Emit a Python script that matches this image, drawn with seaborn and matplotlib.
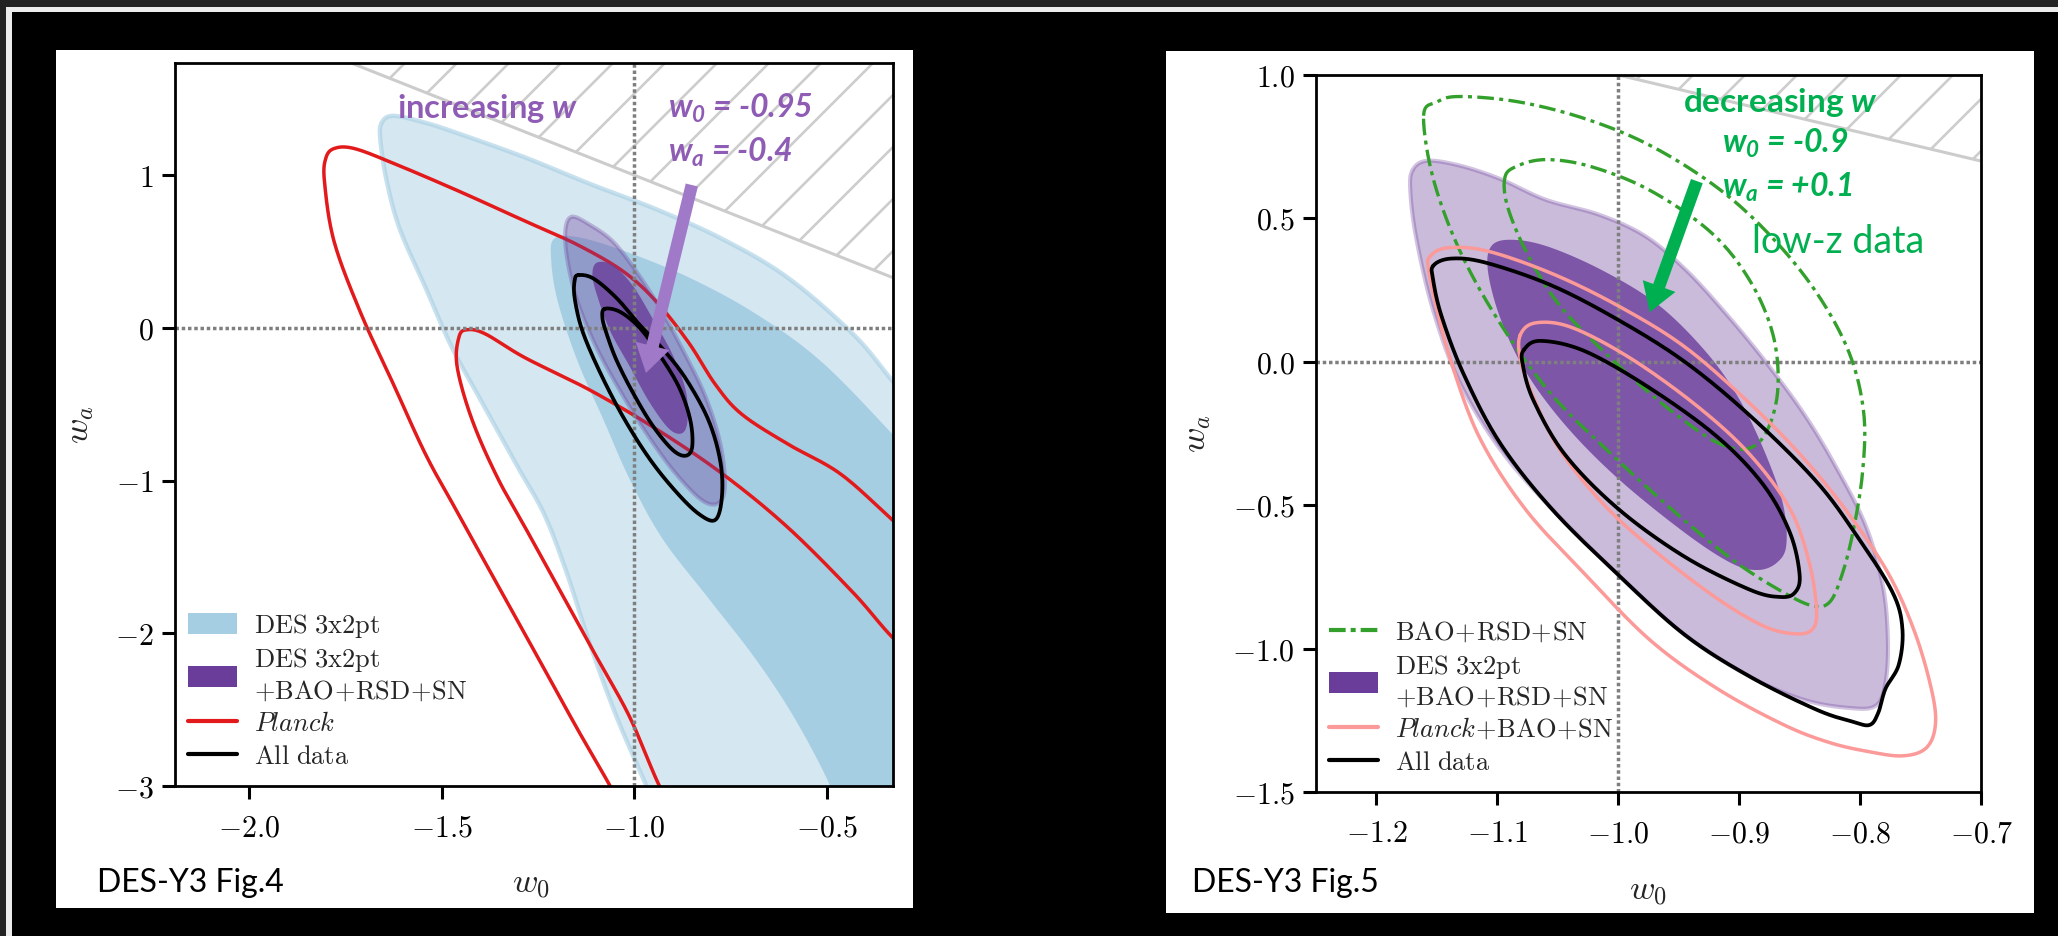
import numpy as np
import matplotlib
matplotlib.use("Agg")
import matplotlib.pyplot as plt
import seaborn as sns
from matplotlib.patches import Rectangle, Polygon, Patch
from matplotlib.lines import Line2D
from matplotlib.collections import LineCollection
from matplotlib.ticker import FixedLocator, FuncFormatter

# ---------------------------------------------------------------------------
# Contour outlines in the (w0, wa) plane, as (w0, wa) vertices
# ---------------------------------------------------------------------------
# Fig. 4 : DES 3x2pt alone (95% and 68%)
fig4_des_95 = [(-1.656, 1.342), (-1.625, 1.389), (-1.540, 1.342), (-1.455, 1.272),
               (-1.284, 1.117), (-1.114, 0.942), (-0.944, 0.778), (-0.773, 0.584),
               (-0.603, 0.331), (-0.433, -0.039), (-0.336, -0.331), (-0.228, -0.681),
               (-0.20, -2.0), (-0.228, -3.33), (-0.944, -3.17), (-0.969, -3.0),
               (-1.046, -2.549), (-1.114, -2.082), (-1.174, -1.615), (-1.233, -1.226),
               (-1.302, -0.914), (-1.387, -0.525), (-1.472, -0.136), (-1.540, 0.253),
               (-1.608, 0.642), (-1.642, 0.953), (-1.659, 1.226)]
fig4_des_68 = [(-1.208, 0.584), (-1.148, 0.595), (-1.029, 0.506), (-0.859, 0.331),
               (-0.688, 0.097), (-0.518, -0.214), (-0.336, -0.681), (-0.228, -0.992),
               (-0.20, -2.2), (-0.228, -3.33), (-0.450, -3.33), (-0.492, -3.0),
               (-0.586, -2.549), (-0.688, -2.160), (-0.808, -1.770), (-0.927, -1.381),
               (-1.012, -0.992), (-1.080, -0.603), (-1.148, -0.214), (-1.199, 0.175),
               (-1.216, 0.447)]
# Fig. 4 : Planck alone (open curves leaving the frame)
fig4_planck_95 = [(-1.012, -3.249), (-1.063, -3.0), (-1.148, -2.626), (-1.250, -2.160),
                  (-1.353, -1.693), (-1.455, -1.226), (-1.540, -0.837), (-1.625, -0.370),
                  (-1.710, 0.097), (-1.779, 0.564), (-1.804, 0.953), (-1.801, 1.109),
                  (-1.779, 1.175), (-1.727, 1.175), (-1.625, 1.078), (-1.455, 0.895),
                  (-1.284, 0.700), (-1.148, 0.545), (-1.029, 0.370), (-0.944, 0.175),
                  (-0.859, -0.097), (-0.790, -0.370), (-0.722, -0.564), (-0.603, -0.759),
                  (-0.467, -0.953), (-0.336, -1.245), (-0.228, -1.498)]
fig4_planck_68 = [(-0.876, -3.249), (-0.935, -3.0), (-1.012, -2.549), (-1.097, -2.160),
                  (-1.182, -1.770), (-1.267, -1.381), (-1.353, -0.992), (-1.421, -0.603),
                  (-1.460, -0.253), (-1.455, -0.058), (-1.434, -0.012), (-1.387, -0.039),
                  (-1.284, -0.195), (-1.114, -0.409), (-0.944, -0.661), (-0.773, -0.953),
                  (-0.603, -1.304), (-0.433, -1.732), (-0.336, -2.012), (-0.228, -2.276)]
# Fig. 4 : DES 3x2pt + BAO + RSD + SN
fig4_comb_95 = [(-1.162, 0.728), (-1.114, 0.673), (-1.055, 0.564), (-0.995, 0.370),
                (-0.935, 0.136), (-0.876, -0.136), (-0.816, -0.447), (-0.777, -0.759),
                (-0.765, -1.031), (-0.782, -1.148), (-0.825, -1.128), (-0.893, -0.953),
                (-0.961, -0.720), (-1.029, -0.447), (-1.097, -0.136), (-1.148, 0.175),
                (-1.174, 0.447), (-1.179, 0.642)]
fig4_comb_68 = [(-1.097, 0.428), (-1.055, 0.409), (-1.003, 0.272), (-0.952, 0.058),
                (-0.901, -0.175), (-0.867, -0.409), (-0.862, -0.603), (-0.876, -0.689),
                (-0.910, -0.661), (-0.961, -0.486), (-1.012, -0.253), (-1.063, -0.019),
                (-1.097, 0.214), (-1.109, 0.350)]
# Fig. 4 : all data
fig4_all_95 = [(-1.145, 0.346), (-1.106, 0.323), (-1.046, 0.195), (-0.986, 0.019),
               (-0.927, -0.136), (-0.867, -0.331), (-0.808, -0.603), (-0.777, -0.875),
               (-0.773, -1.109), (-0.790, -1.257), (-0.833, -1.218), (-0.893, -1.070),
               (-0.961, -0.856), (-1.029, -0.584), (-1.089, -0.292), (-1.135, -0.019),
               (-1.155, 0.195), (-1.155, 0.311)]
fig4_all_68 = [(-1.077, 0.125), (-1.037, 0.105), (-0.986, 0.0), (-0.935, -0.175),
               (-0.884, -0.389), (-0.855, -0.603), (-0.850, -0.778), (-0.867, -0.837),
               (-0.901, -0.798), (-0.952, -0.642), (-1.003, -0.428), (-1.046, -0.214),
               (-1.072, -0.039), (-1.083, 0.066)]

# Fig. 5 : DES 3x2pt + BAO + RSD + SN
fig5_comb_95 = [(-1.170, 0.669), (-1.158, 0.701), (-1.131, 0.684), (-1.098, 0.638),
                (-1.060, 0.565), (-1.016, 0.513), (-0.978, 0.439), (-0.945, 0.324),
                (-0.913, 0.178), (-0.880, 0.010), (-0.847, -0.178), (-0.820, -0.366),
                (-0.795, -0.575), (-0.781, -0.785), (-0.777, -0.973), (-0.779, -1.119),
                (-0.787, -1.199), (-0.809, -1.207), (-0.847, -1.178), (-0.891, -1.098),
                (-0.945, -0.952), (-1.000, -0.743), (-1.055, -0.513), (-1.098, -0.303),
                (-1.131, -0.073), (-1.153, 0.178), (-1.167, 0.429), (-1.172, 0.596)]
fig5_comb_68 = [(-1.104, 0.408), (-1.085, 0.425), (-1.055, 0.397), (-1.011, 0.314),
                (-0.967, 0.199), (-0.929, 0.042), (-0.902, -0.115), (-0.880, -0.303),
                (-0.864, -0.492), (-0.861, -0.638), (-0.869, -0.701), (-0.885, -0.726),
                (-0.907, -0.701), (-0.945, -0.596), (-1.000, -0.408), (-1.044, -0.220),
                (-1.077, -0.031), (-1.098, 0.157), (-1.108, 0.324)]
# Fig. 5 : BAO + RSD + SN (low-z)
fig5_lowz_95 = [(-1.161, 0.858), (-1.150, 0.906), (-1.131, 0.925), (-1.082, 0.906),
                (-1.027, 0.847), (-0.973, 0.753), (-0.918, 0.607), (-0.874, 0.439),
                (-0.836, 0.241), (-0.809, 0.031), (-0.797, -0.178), (-0.798, -0.387),
                (-0.806, -0.596), (-0.815, -0.743), (-0.825, -0.837), (-0.839, -0.851),
                (-0.863, -0.805), (-0.902, -0.701), (-0.945, -0.554), (-1.000, -0.345),
                (-1.055, -0.115), (-1.098, 0.136), (-1.131, 0.387), (-1.153, 0.638)]
fig5_lowz_68 = [(-1.094, 0.638), (-1.085, 0.680), (-1.060, 0.705), (-1.022, 0.680),
                (-0.973, 0.596), (-0.923, 0.450), (-0.891, 0.282), (-0.872, 0.094),
                (-0.868, -0.094), (-0.877, -0.241), (-0.893, -0.303), (-0.918, -0.282),
                (-0.951, -0.188), (-0.984, -0.073), (-1.016, 0.052), (-1.049, 0.199),
                (-1.074, 0.366), (-1.091, 0.533)]
# Fig. 5 : Planck + BAO + SN
fig5_planck_95 = [(-1.156, 0.366), (-1.142, 0.397), (-1.109, 0.387), (-1.055, 0.308),
                  (-1.000, 0.195), (-0.945, 0.052), (-0.891, -0.146), (-0.847, -0.335),
                  (-0.809, -0.533), (-0.776, -0.743), (-0.754, -0.952), (-0.740, -1.161),
                  (-0.738, -1.276), (-0.746, -1.349), (-0.765, -1.374), (-0.792, -1.360),
                  (-0.825, -1.328), (-0.863, -1.266), (-0.918, -1.140), (-0.973, -0.973),
                  (-1.027, -0.743), (-1.077, -0.513), (-1.115, -0.262), (-1.139, 0.010),
                  (-1.152, 0.220), (-1.157, 0.324)]
fig5_planck_68 = [(-1.081, 0.094), (-1.068, 0.136), (-1.038, 0.119), (-0.989, 0.010),
                  (-0.934, -0.157), (-0.891, -0.324), (-0.858, -0.513), (-0.842, -0.701),
                  (-0.836, -0.868), (-0.840, -0.935), (-0.855, -0.948), (-0.880, -0.921),
                  (-0.918, -0.826), (-0.967, -0.669), (-1.011, -0.502), (-1.049, -0.303),
                  (-1.071, -0.115), (-1.081, 0.010)]
# Fig. 5 : all data
fig5_all_95 = [(-1.153, 0.335), (-1.138, 0.360), (-1.109, 0.345), (-1.055, 0.266),
               (-1.000, 0.146), (-0.945, 0.000), (-0.891, -0.188), (-0.836, -0.418),
               (-0.801, -0.617), (-0.773, -0.805), (-0.765, -0.931), (-0.768, -1.056),
               (-0.779, -1.140), (-0.785, -1.224), (-0.792, -1.266), (-0.806, -1.255),
               (-0.836, -1.213), (-0.891, -1.098), (-0.945, -0.952), (-1.000, -0.743),
               (-1.055, -0.513), (-1.098, -0.282), (-1.128, -0.042), (-1.146, 0.157),
               (-1.153, 0.282)]
fig5_all_68 = [(-1.078, 0.042), (-1.064, 0.073), (-1.027, 0.036), (-0.973, -0.094),
               (-0.918, -0.262), (-0.880, -0.429), (-0.858, -0.596), (-0.850, -0.743),
               (-0.854, -0.805), (-0.866, -0.820), (-0.891, -0.795), (-0.945, -0.680),
               (-1.000, -0.513), (-1.044, -0.324), (-1.070, -0.136), (-1.079, -0.010)]

# Axis ranges and ticks
fig4_xlim, fig4_ylim = (-2.192, -0.329), (-3.0, 1.735)
fig5_xlim, fig5_ylim = (-1.25, -0.70), (-1.5, 1.0)
fig4_xticks = [-2.0, -1.5, -1.0, -0.5]
fig4_yticks = [-3, -2, -1, 0, 1]
fig5_xticks = [-1.2, -1.1, -1.0, -0.9, -0.8, -0.7]
fig5_yticks = [-1.5, -1.0, -0.5, 0.0, 0.5, 1.0]

# Reference (LCDM) point and the annotated shifts
lcdm_w0, lcdm_wa = -1.0, 0.0
fig4_shift = {"w0": "-0.95", "wa": "-0.4"}
fig5_shift = {"w0": "-0.9", "wa": "+0.1"}

# Colours (Paired palette)
pal = sns.color_palette("Paired")
c_lblue, c_green, c_pink, c_red, c_purple = pal[0], pal[3], pal[4], pal[5], pal[9]
c_ann_purple = "#8e5cb5"
c_arrow_purple = "#a07ac8"
c_ann_green = "#00b050"

W, H = 2058, 936

sns.set_theme(style="ticks")
plt.rcParams.update({
    "font.family": ["DejaVu Sans"],
    "mathtext.fontset": "cm",
    "mathtext.rm": "Lato:bold:italic",
    "mathtext.it": "Lato:bold:italic",
    "mathtext.bf": "Lato:bold:italic",
    "axes.linewidth": 2.0,
    "axes.edgecolor": "black",
    "xtick.color": "black",
    "ytick.color": "black",
})


def smooth(pts, closed=True, n=24):
    """Catmull-Rom curve through the given vertices."""
    p = np.asarray(pts, dtype=float)
    m = len(p)
    if not closed:
        p = np.vstack([2 * p[0] - p[1], p, 2 * p[-1] - p[-2]])
    segs = []
    rng = range(m) if closed else range(1, m)
    t = np.linspace(0, 1, n, endpoint=False)[:, None]
    for i in rng:
        if closed:
            p0, p1, p2, p3 = p[i - 1], p[i], p[(i + 1) % m], p[(i + 2) % m]
        else:
            p0, p1, p2, p3 = p[i - 1], p[i], p[i + 1], p[i + 2]
        segs.append(0.5 * (2 * p1 + (-p0 + p2) * t + (2 * p0 - 5 * p1 + 4 * p2 - p3) * t ** 2
                           + (-p0 + 3 * p1 - 3 * p2 + p3) * t ** 3))
    out = np.vstack(segs)
    if closed:
        out = np.vstack([out, out[:1]])
    else:
        out = np.vstack([out, p[-2]])
    return out[:, 0], out[:, 1]


def fill_contour(ax, pts, color, alpha, z, edge=None):
    x, y = smooth(pts)
    ax.fill(x, y, color=color, alpha=alpha, lw=0, zorder=z)
    if edge is not None:
        ax.plot(x, y, color=edge[0], alpha=edge[1], lw=edge[2], zorder=z + 0.01)


def line_contour(ax, pts, color, lw, z, ls="-", closed=True):
    x, y = smooth(pts, closed=closed)
    sns.lineplot(x=x, y=y, sort=False, estimator=None, ax=ax, color=color,
                 lw=lw, ls=ls, zorder=z, legend=False)


def hatch_excluded(ax, xlim, ylim, spacing=0.52):
    """Grey hatching above wa = -w0."""
    x0, x1 = xlim[0] - 1, xlim[1] + 1
    region = Polygon([(x0, -x0), (x1, -x1), (x1, 50), (x0, 50)], closed=True,
                     facecolor="none", edgecolor="none", zorder=0.5)
    ax.add_patch(region)
    wi, hi = W / 100, H / 100
    segs = [[(s, 0), (s + hi, hi)] for s in np.arange(-hi, wi, spacing)]
    lc = LineCollection(segs, colors="#cdcdcd", linewidths=1.9,
                        transform=ax.figure.dpi_scale_trans, zorder=0.6)
    ax.add_collection(lc, autolim=False)
    lc.set_clip_path(region)
    xb = np.array([x0, x1])
    sns.lineplot(x=xb, y=-xb, ax=ax, color="#cccccc", lw=2.2, zorder=0.7,
                 sort=False, estimator=None, legend=False)


def style_axes(ax, xlim, ylim, xticks, yticks, fmt_x, fmt_y):
    ax.set_xlim(*xlim)
    ax.set_ylim(*ylim)
    ax.xaxis.set_major_locator(FixedLocator(xticks))
    ax.yaxis.set_major_locator(FixedLocator(yticks))
    ax.xaxis.set_major_formatter(FuncFormatter(lambda v, p: r"$%s$" % (fmt_x % v)))
    ax.yaxis.set_major_formatter(FuncFormatter(lambda v, p: r"$%s$" % (fmt_y % v)))
    ax.tick_params(axis="both", direction="out", length=9.5, width=2.2, labelsize=21.5,
                   top=False, right=False)
    ax.tick_params(axis="x", pad=10)
    ax.tick_params(axis="y", pad=6)
    for s in ax.spines.values():
        s.set_visible(True)
        s.set_linewidth(2.0)
        s.set_zorder(10)
    ax.set_facecolor("white")
    ax.grid(False)


def ref_lines(ax):
    ax.axvline(lcdm_w0, color="#7f7f7f", lw=2.5, ls=(0, (1, 0.8)), zorder=4.5)
    ax.axhline(lcdm_wa, color="#7f7f7f", lw=2.5, ls=(0, (1, 0.8)), zorder=4.5)


fig = plt.figure(figsize=(W / 100, H / 100), dpi=100)
fig.patch.set_facecolor("black")


def px_rect(x0, y0, x1, y1, **kw):
    fig.patches.append(Rectangle((x0 / W, 1 - y1 / H), (x1 - x0) / W, (y1 - y0) / H,
                                 transform=fig.transFigure, figure=fig, **kw))


# slide border (top and left) and white panels
px_rect(0, 0, W, 7, facecolor="#222222", edgecolor="none", zorder=-3)
px_rect(0, 0, 6, H, facecolor="#222222", edgecolor="none", zorder=-3)
px_rect(6, 7, W, 12, facecolor="#ececec", edgecolor="none", zorder=-2)
px_rect(6, 7, 12, H, facecolor="#ececec", edgecolor="none", zorder=-2)
px_rect(56, 50, 913, 908, facecolor="white", edgecolor="none", zorder=-1)
px_rect(1166, 51, 2034, 913, facecolor="white", edgecolor="none", zorder=-1)

ax4 = fig.add_axes([175 / W, 1 - 786 / H, 718 / W, 723 / H])
ax5 = fig.add_axes([1316 / W, 1 - 792 / H, 665 / W, 717 / H])

# ------------------------------- Fig. 4 ------------------------------------
hatch_excluded(ax4, fig4_xlim, fig4_ylim)
fill_contour(ax4, fig4_des_95, c_lblue, 0.47, 1.0, edge=(c_lblue, 0.6, 3.2))
fill_contour(ax4, fig4_des_68, c_lblue, 1.0, 1.1)
line_contour(ax4, fig4_planck_95, c_red, 2.5, 3.0, closed=False)
line_contour(ax4, fig4_planck_68, c_red, 2.5, 3.0, closed=False)
fill_contour(ax4, fig4_comb_95, c_purple, 0.35, 4.0, edge=(c_purple, 0.3, 3.0))
fill_contour(ax4, fig4_comb_68, c_purple, 0.8, 4.1)
ref_lines(ax4)
line_contour(ax4, fig4_all_95, "black", 2.7, 6.0)
line_contour(ax4, fig4_all_68, "black", 2.7, 6.0)
style_axes(ax4, fig4_xlim, fig4_ylim, fig4_xticks, fig4_yticks, "%.1f", "%d")

h4 = [Patch(facecolor=c_lblue, edgecolor="none"),
      Patch(facecolor=c_purple, edgecolor="none"),
      Line2D([], [], color=c_red, lw=3.0),
      Line2D([], [], color="black", lw=3.0)]
l4 = [r"$\mathrm{DES\ 3x2pt}$",
      r"$\mathrm{DES\ 3x2pt}$" + "\n" + r"$\mathrm{+BAO\!+\!RSD\!+\!SN}$",
      r"$\mathit{Planck}$",
      r"$\mathrm{All\ data}$"]
leg4 = ax4.legend(h4, l4, loc="lower left", bbox_to_anchor=(0.004, 0.008), frameon=False,
                  fontsize=19, handlelength=1.85, handleheight=0.85, handletextpad=0.65,
                  labelspacing=0.25, borderaxespad=0.0)
leg4.set_zorder(12)

# ------------------------------- Fig. 5 ------------------------------------
hatch_excluded(ax5, fig5_xlim, fig5_ylim)
fill_contour(ax5, fig5_comb_95, c_purple, 0.35, 1.0, edge=(c_purple, 0.3, 3.0))
fill_contour(ax5, fig5_comb_68, c_purple, 0.8, 1.1)
ref_lines(ax5)
line_contour(ax5, fig5_lowz_95, c_green, 2.4, 5.0, ls=(0, (5, 1.6, 1.2, 1.6)))
line_contour(ax5, fig5_lowz_68, c_green, 2.4, 5.0, ls=(0, (5, 1.6, 1.2, 1.6)))
line_contour(ax5, fig5_planck_95, c_pink, 2.5, 5.5)
line_contour(ax5, fig5_planck_68, c_pink, 2.5, 5.5)
line_contour(ax5, fig5_all_95, "black", 2.7, 6.0)
line_contour(ax5, fig5_all_68, "black", 2.7, 6.0)
style_axes(ax5, fig5_xlim, fig5_ylim, fig5_xticks, fig5_yticks, "%.1f", "%.1f")

h5 = [Line2D([], [], color=c_green, lw=3.0, ls=(0, (4, 1.2, 1.2, 1.2))),
      Patch(facecolor=c_purple, edgecolor="none"),
      Line2D([], [], color=c_pink, lw=3.0),
      Line2D([], [], color="black", lw=3.0)]
l5 = [r"$\mathrm{BAO\!+\!RSD\!+\!SN}$",
      r"$\mathrm{DES\ 3x2pt}$" + "\n" + r"$\mathrm{+BAO\!+\!RSD\!+\!SN}$",
      r"$\mathit{Planck}\mathrm{\!+\!BAO\!+\!SN}$",
      r"$\mathrm{All\ data}$"]
leg5 = ax5.legend(h5, l5, loc="lower left", bbox_to_anchor=(0.004, 0.008), frameon=False,
                  fontsize=19, handlelength=1.85, handleheight=0.85, handletextpad=0.65,
                  labelspacing=0.25, borderaxespad=0.0)
leg5.set_zorder(12)

# axis labels
for ax, lx, ly in ((ax4, (0.496, -0.136), (-0.134, 0.50)), (ax5, (0.50, -0.138), (-0.18, 0.50))):
    ax.set_xlabel(r"$w_0$", fontsize=25, va="center")
    ax.set_ylabel(r"$w_a$", fontsize=25, va="center")
    ax.xaxis.set_label_coords(*lx)
    ax.yaxis.set_label_coords(*ly)

# ------------------------------ annotations --------------------------------
ann = dict(family="Lato", weight="bold", style="italic", math_fontfamily="custom")


def ftext(x, y, s, **kw):
    fig.text(x / W, 1 - y / H, s, va="baseline", ha="left", **kw)


ftext(397, 118, r"increasing $w$", color=c_ann_purple, fontsize=23.5, family="Lato",
      weight="bold", math_fontfamily="custom")
ftext(668, 118, r"$w_0$ = " + fig4_shift["w0"], color=c_ann_purple, fontsize=23, **ann)
ftext(668, 162, r"$w_a$ = " + fig4_shift["wa"], color=c_ann_purple, fontsize=23, **ann)

ftext(1683, 112, r"decreasing $w$", color=c_ann_green, fontsize=24, family="Lato",
      weight="bold", math_fontfamily="custom")
ftext(1722, 153, r"$w_0$ = " + fig5_shift["w0"], color=c_ann_green, fontsize=23, **ann)
ftext(1722, 197, r"$w_a$ = " + fig5_shift["wa"], color=c_ann_green, fontsize=23, **ann)
ftext(1752, 253, "low-z data", color=c_ann_green, fontsize=27, family="Lato")

ftext(97, 892, "DES-Y3 Fig.4", color="black", fontsize=23, family="Lato")
ftext(1192, 892, "DES-Y3 Fig.5", color="black", fontsize=23, family="Lato")

arrow_kw = dict(arrowstyle="simple,head_length=1.0,head_width=1.25,tail_width=0.45",
                mutation_scale=20, shrinkA=0, shrinkB=0, lw=0)
ax4.annotate("", xy=(-0.970, -0.295), xytext=(-0.851, 0.936), annotation_clip=False,
             arrowprops=dict(color=c_arrow_purple, **arrow_kw), zorder=20)
ax5.annotate("", xy=(-0.974, 0.173), xytext=(-0.935, 0.630), annotation_clip=False,
             arrowprops=dict(color=c_ann_green, **arrow_kw), zorder=20)

fig.savefig("out.png", dpi=100, facecolor=fig.get_facecolor())
